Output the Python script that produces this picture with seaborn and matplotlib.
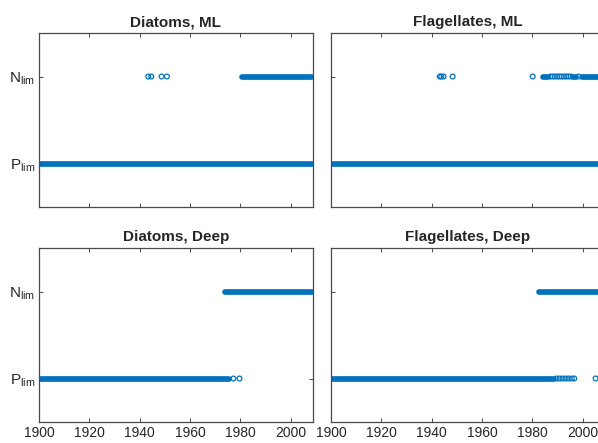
import numpy as np
import pandas as pd
import matplotlib
matplotlib.use("Agg")
import matplotlib.pyplot as plt
import seaborn as sns

# limitation state per panel: 0 = P limited, 1 = N limited
# dense runs of points as (first year, last year), single points as years
panels = ["Diatoms, ML", "Flagellates, ML", "Diatoms, Deep", "Flagellates, Deep"]

dml_p_runs = [(1900.0, 2008.5)]
dml_p_points = []
dml_n_runs = [(1980.6, 2008.5)]
dml_n_points = [1943.4, 1944.6, 1948.7, 1950.8]

fml_p_runs = [(1900.0, 2008.5)]
fml_p_points = []
fml_n_runs = [(1984.0, 1986.3), (1996.0, 1997.5), (1999.5, 2008.5)]
fml_n_points = [1943.2, 1943.8, 1944.7, 1948.3, 1980.1, 1987.1, 1988.0, 1988.9,
                1989.8, 1990.7, 1991.6, 1992.5, 1993.4, 1994.3, 1995.2, 1998.3]

ddp_p_runs = [(1900.0, 1975.6)]
ddp_p_points = [1977.2, 1979.6]
ddp_n_runs = [(1973.9, 2008.5)]
ddp_n_points = []

fdp_p_runs = [(1900.0, 1988.5)]
fdp_p_points = [1989.6, 1990.8, 1992.0, 1993.2, 1994.4, 1995.6, 1996.6, 2005.1]
fdp_n_runs = [(1982.6, 2008.5)]
fdp_n_points = []

runs = {
    "Diatoms, ML": (dml_p_runs, dml_n_runs),
    "Flagellates, ML": (fml_p_runs, fml_n_runs),
    "Diatoms, Deep": (ddp_p_runs, ddp_n_runs),
    "Flagellates, Deep": (fdp_p_runs, fdp_n_runs),
}
points = {
    "Diatoms, ML": (dml_p_points, dml_n_points),
    "Flagellates, ML": (fml_p_points, fml_n_points),
    "Diatoms, Deep": (ddp_p_points, ddp_n_points),
    "Flagellates, Deep": (fdp_p_points, fdp_n_points),
}

blue = "#0072BD"
axcol = "#4a4a4a"

sns.set_theme(style="ticks")
plt.rcParams["font.family"] = ["Liberation Sans", "DejaVu Sans"]

fig = plt.figure(figsize=(5.98, 4.43), dpi=100)
lefts = [39 / 598, 331 / 598]
bottoms = [1 - 207 / 443, 1 - 422 / 443]
w, h = 273.7 / 598, 174 / 443

for i, name in enumerate(panels):
    ax = fig.add_axes([lefts[i % 2], bottoms[i // 2], w, h])

    # runs -> long table, two rows per run
    rows = []
    k = 0
    for state, rl in enumerate(runs[name]):
        for a, b in rl:
            rows.append((k, state, a))
            rows.append((k, state, b))
            k += 1
    df = pd.DataFrame(rows, columns=["run", "state", "year"])
    sns.lineplot(data=df, x="year", y="state", units="run", estimator=None,
                 sort=False, color=blue, lw=4.1, solid_capstyle="round",
                 legend=False, ax=ax)

    prow = []
    for state, pl in enumerate(points[name]):
        for y in pl:
            prow.append((state, y))
    if prow:
        pdf = pd.DataFrame(prow, columns=["state", "year"])
        sns.scatterplot(data=pdf, x="year", y="state", color=blue, s=12,
                        linewidth=0.9, legend=False, ax=ax)
        coll = ax.collections[-1]
        coll.set_facecolor("none")
        coll.set_edgecolor(blue)

    ax.set_xlim(1900, 2008.7)
    ax.set_ylim(-0.5, 1.5)
    ax.set_xticks(np.arange(1900, 2001, 20))
    ax.set_yticks([0, 1])
    ax.set_yticklabels([r"P$_\mathregular{lim}$", r"N$_\mathregular{lim}$"])
    ax.set_xlabel("")
    ax.set_ylabel("")
    ax.set_title(name, fontsize=11, fontweight="bold", pad=5)
    ax.tick_params(direction="in", top=True, right=True, length=3, width=0.7,
                   color=axcol, labelcolor="#262626", labelsize=10, pad=3)
    ax.tick_params(axis="y", labelsize=11)
    if i < 2:
        ax.tick_params(labelbottom=False)
    if i % 2 == 1:
        ax.tick_params(labelleft=False)
    for sp in ax.spines.values():
        sp.set_color(axcol)
        sp.set_linewidth(0.9)
        sp.set_visible(True)

fig.savefig("out.png", dpi=100)
